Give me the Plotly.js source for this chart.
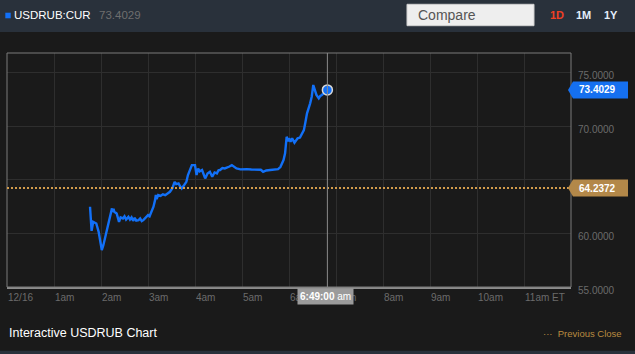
<!DOCTYPE html>
<html>
<head>
<meta charset="utf-8">
<script src="https://cdn.plot.ly/plotly-3.0.1.min.js"></script>
<style>
html,body{margin:0;padding:0;background:#1a1a1a;overflow:hidden;}
#chart{width:635px;height:354px;}
</style>
</head>
<body>
<div id="chart"></div>
<script>
// ---- data ----
const day = '2014-12-16';
const times = ['01:46','01:47','01:48','01:50','01:52','01:54','01:57','02:00','02:01','02:03','02:04','02:07','02:09','02:11','02:14','02:15','02:16','02:17','02:20','02:23','02:25','02:28','02:30','02:32','02:35','02:37','02:39','02:41','02:43','02:45','02:48','02:50','02:52','02:54','02:57','03:00','03:02','03:05','03:07','03:09','03:10','03:11','03:13','03:16','03:19','03:22','03:25','03:28','03:31','03:34','03:36','03:39','03:41','03:43','03:46','03:49','03:51','03:56','04:00','04:02','04:04','04:06','04:09','04:11','04:13','04:16','04:19','04:22','04:25','04:28','04:30','04:32','04:35','04:38','04:41','04:44','04:47','04:50','04:53','04:58','05:02','05:06','05:12','05:19','05:24','05:27','05:31','05:36','05:41','05:46','05:49','05:51','05:53','05:55','05:57','05:59','06:00','06:02','06:04','06:07','06:09','06:11','06:14','06:16','06:19','06:21','06:23','06:27','06:29','06:31','06:33','06:35','06:38','06:40','06:42','06:45','06:49'];
const prices = [62.49,60.40,60.24,61.08,61.00,60.93,60.15,58.90,58.44,58.90,59.21,60.30,60.93,61.60,62.34,62.00,62.30,62.02,61.87,61.08,61.50,61.40,61.60,61.30,61.55,61.30,61.50,61.18,61.45,61.20,61.24,61.40,61.15,61.24,61.50,61.71,61.60,62.18,62.50,63.11,63.60,63.20,63.58,63.50,63.65,63.58,63.75,63.89,64.20,64.82,64.60,64.67,64.40,64.20,64.50,64.82,65.45,66.38,66.38,65.45,66.07,65.80,65.92,65.50,65.14,65.60,65.76,65.29,65.70,65.61,65.90,65.92,66.10,66.07,66.20,66.25,66.38,66.20,66.07,65.98,66.02,66.01,65.97,65.98,65.95,65.76,65.88,65.92,65.98,66.01,66.20,66.54,66.85,67.48,69.03,68.60,68.88,68.56,68.88,68.47,68.75,68.88,68.95,69.19,69.65,70.40,71.21,72.15,72.77,73.86,73.40,72.93,72.62,72.85,72.93,73.14,73.4029];
const prevClose = 64.2372;
const lastPrice = 73.4029;
const lastTime = '06:49';
const hourTicks = ['00:00','01:00','02:00','03:00','04:00','05:00','06:00','07:00','08:00','09:00','10:00','11:00'];
const hourLabels = ['12/16','1am','2am','3am','4am','5am','6am','7am','8am','9am','10am','11am ET'];
const yTicks = [55,60,65,70,75];
const yLabels = ['55.0000','60.0000','','70.0000','75.0000'];
const symbol = 'USDRUB:CUR';

// ---- build ----
const ts = t => day + ' ' + t;
const BLUE = '#1270f7';
const GOLD = '#d39c4c';
const FONT = 'Liberation Sans, Arial, sans-serif';

const traces = [
  {x: times.map(ts), y: prices, type: 'scatter', mode: 'lines',
   line: {color: BLUE, width: 2.4}, hoverinfo: 'skip', showlegend: false},
  {x: [ts(lastTime)], y: [lastPrice], type: 'scatter', mode: 'markers',
   marker: {color: BLUE, size: 10, line: {color: '#d8d8d8', width: 1.5}},
   hoverinfo: 'skip', showlegend: false}
];

const tagPath = 'M -3 0 L 2 8.5 L 57 8.5 L 57 -8.5 L 2 -8.5 Z';

const layout = {
  width: 635, height: 354, autosize: false,
  margin: {l: 7, r: 64, t: 53, b: 67, pad: 0},
  paper_bgcolor: '#1a1a1a', plot_bgcolor: '#1a1a1a',
  font: {family: FONT, color: '#6b6b6b', size: 10},
  showlegend: false,
  xaxis: {
    type: 'date', range: [ts('00:00'), ts('12:00')],
    tickmode: 'array', tickvals: hourTicks.map(ts), ticktext: hourLabels,
    ticklabelposition: 'outside right',
    showgrid: true, gridcolor: '#2e2e2e', gridwidth: 1,
    zeroline: false, ticks: '', showline: true, linecolor: '#8c8c8c', linewidth: 2,
    tickfont: {size: 10, color: '#6b6b6b', family: FONT}, fixedrange: true
  },
  yaxis: {
    range: [55, 76.85], side: 'right',
    tickmode: 'array', tickvals: yTicks, ticktext: yLabels,
    showgrid: true, gridcolor: '#2e2e2e', gridwidth: 1,
    zeroline: false, ticks: '', showline: false,
    ticklabelstandoff: 6, ticklabelshift: 3,
    tickfont: {size: 10, color: '#6b6b6b', family: FONT}, fixedrange: true
  },
  shapes: [
    {type: 'rect', xref: 'paper', yref: 'paper', x0: -0.05, x1: 1.2, y0: 1.0897, y1: 1.3,
     fillcolor: '#29313b', line: {width: 0}, layer: 'below'},
    {type: 'rect', xref: 'paper', yref: 'paper', x0: -0.05, x1: 1.2, y0: -0.272, y1: -0.31,
     fillcolor: '#29313b', line: {width: 0}, layer: 'below'},
    {type: 'rect', xref: 'paper', yref: 'paper', x0: 0.7092, x1: 0.9344, y0: 1.1167, y1: 1.2081,
     fillcolor: '#eeeeee', line: {color: '#d0d0d0', width: 1}},
    {type: 'rect', xref: 'paper', yref: 'paper', x0: -0.0030, x1: 0.0066, y0: 1.1483, y1: 1.1722,
     fillcolor: BLUE, line: {width: 0}},
    {type: 'rect', xref: 'paper', yref: 'paper', x0: 0, x1: 1, y0: 0, y1: 1,
     line: {color: '#7a7a7a', width: 1}, fillcolor: 'rgba(0,0,0,0)'},
    {type: 'line', xref: 'paper', yref: 'y', x0: 0, x1: 1, y0: prevClose, y1: prevClose,
     line: {color: GOLD, width: 2, dash: '2px,2px'}},
    {type: 'line', xref: 'x', yref: 'paper', x0: ts(lastTime), x1: ts(lastTime), y0: 0, y1: 1,
     line: {color: '#8a8a8a', width: 1}},
    {type: 'path', xref: 'paper', yref: 'y', xsizemode: 'pixel', ysizemode: 'pixel',
     xanchor: 1, yanchor: lastPrice, path: tagPath, fillcolor: '#1570f0', line: {width: 0}},
    {type: 'path', xref: 'paper', yref: 'y', xsizemode: 'pixel', ysizemode: 'pixel',
     xanchor: 1, yanchor: prevClose, path: tagPath, fillcolor: '#b38849', line: {width: 0}}
  ],
  annotations: [
    {xref: 'paper', yref: 'paper', x: 0.00975, y: 1.1603, xanchor: 'left', yanchor: 'middle',
     text: symbol, showarrow: false, font: {family: FONT, size: 11.5, color: '#ffffff'}},
    {xref: 'paper', yref: 'paper', x: 0.1596, y: 1.1603, xanchor: 'left', yanchor: 'middle',
     text: lastPrice.toFixed(4), showarrow: false, font: {family: FONT, size: 11.5, color: '#6e6e6e'}},
    {xref: 'paper', yref: 'paper', x: 0.7252, y: 1.1624, xanchor: 'left', yanchor: 'middle',
     text: 'Compare', showarrow: false, font: {family: FONT, size: 14, color: '#555555'}},
    {xref: 'paper', yref: 'paper', x: 0.9743, y: 1.1624, xanchor: 'center', yanchor: 'middle',
     text: '<b>1D</b>', showarrow: false, font: {family: FONT, size: 11, color: '#ef4024'}},
    {xref: 'paper', yref: 'paper', x: 1.0230, y: 1.1624, xanchor: 'center', yanchor: 'middle',
     text: '<b>1M</b>', showarrow: false, font: {family: FONT, size: 11, color: '#e3eefa'}},
    {xref: 'paper', yref: 'paper', x: 1.0718, y: 1.1624, xanchor: 'center', yanchor: 'middle',
     text: '<b>1Y</b>', showarrow: false, font: {family: FONT, size: 11, color: '#e3eefa'}},
    {xref: 'paper', yref: 'y', x: 1, y: lastPrice, xanchor: 'left', yanchor: 'middle', xshift: 6,
     text: '<b>' + lastPrice.toFixed(4) + '</b>', showarrow: false, font: {family: FONT, size: 10, color: '#ffffff'}},
    {xref: 'paper', yref: 'y', x: 1, y: prevClose, xanchor: 'left', yanchor: 'middle', xshift: 6,
     text: '<b>' + prevClose.toFixed(4) + '</b>', showarrow: false, font: {family: FONT, size: 10, color: '#ffffff'}},
    {xref: 'x', yref: 'paper', x: ts(lastTime), y: -0.0406, xanchor: 'center', yanchor: 'middle', xshift: -2,
     text: '<b>6:49:00</b> am', showarrow: false, bgcolor: '#9b9b9b', borderpad: 2,
     font: {family: FONT, size: 10, color: '#ffffff'}},
    {xref: 'paper', yref: 'paper', x: 0, y: -0.1966, xanchor: 'left', yanchor: 'middle',
     text: 'Interactive USDRUB Chart', showarrow: false, font: {family: FONT, size: 12.5, color: '#ffffff'}},
    {xref: 'paper', yref: 'paper', x: 1.094, y: -0.1966, xanchor: 'right', yanchor: 'middle',
     text: '\u00b7\u00b7\u00b7  Previous Close', showarrow: false, font: {family: FONT, size: 9.5, color: '#b98b40'}}
  ]
};

Plotly.newPlot('chart', traces, layout, {staticPlot: true, displayModeBar: false});
</script>
</body>
</html>
